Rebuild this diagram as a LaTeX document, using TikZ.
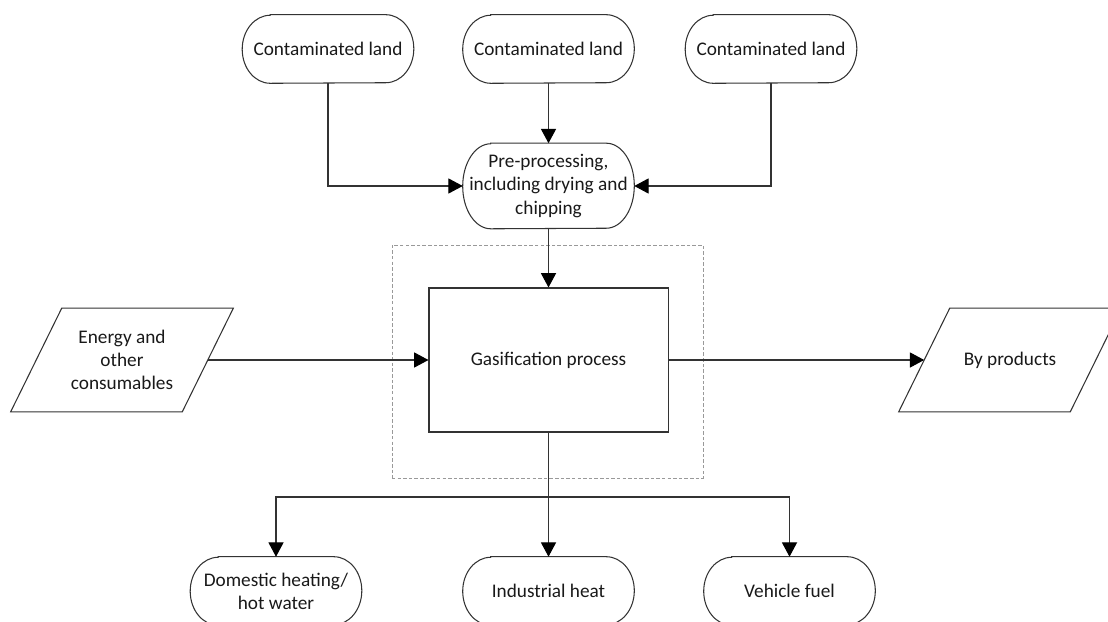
\documentclass[tikz,border=0pt]{standalone}
\usepackage{fontspec}
\setmainfont{Carlito}
\usetikzlibrary{arrows.meta}
\newcommand{\termoutline}[2]{%
  \draw[link] ([xshift=0.7cm]#1.north west) -- ([xshift=-0.7cm]#1.north east)
    arc[start angle=90, end angle=-90, x radius=0.7cm, y radius=#2]
    -- ([xshift=0.7cm]#1.south west)
    arc[start angle=270, end angle=90, x radius=0.7cm, y radius=#2] -- cycle;}
\newcommand{\dataoutline}[1]{%
  \draw[link] ([xshift=0.6375cm]#1.north west) -- ([xshift=0.6375cm]#1.north east)
    -- ([xshift=-0.6375cm]#1.south east) -- ([xshift=-0.6375cm]#1.south west) -- cycle;}

\begin{document}
\begin{tikzpicture}[x=0.025cm, y=-0.025cm]
  \tikzset{
    every node/.style={font=\fontsize{13.7}{16.4}\selectfont, text=black!90, align=center},
    link/.style={draw=black!80, line width=0.75pt},
    >={Triangle[length=0.36cm, width=0.38cm, color=black]},
    endbox/.style={minimum width=4.275cm, minimum height=1.7cm, inner sep=0pt},
    databox/.style={minimum width=4.275cm, minimum height=2.575cm, inner sep=0pt},
    processbox/.style={rectangle, link, minimum width=5.975cm, minimum height=3.6cm},
    framebox/.style={rectangle, draw=black!40, line width=0.5pt, dash pattern=on 2.5pt off 1.5pt,
      minimum width=7.775cm, minimum height=5.825cm}
  }
  \useasboundingbox (0,0) rectangle (1108,622);

  \node[framebox] (frame) at (547.5,361.5) {};

  \node[endbox] (land-1) at (328,49) {Contaminated land};
  \node[endbox] (land-2) at (548.5,49) {Contaminated land};
  \node[endbox] (land-3) at (771,49) {Contaminated land};
  \node[endbox, minimum height=2.125cm] (pre) at (548.5,186) {Pre-processing,\\including drying and\\chipping};
  \node[processbox] (gas) at (548.5,360) {Gasification process};
  \node[databox] (energy) at (122,360) {Energy and\\other\\consumables};
  \node[databox] (byprod) at (1010,360) {By products};
  \node[endbox] (use-1) at (276,591) {Domestic heating/\\hot water};
  \node[endbox] (use-2) at (548.5,591) {Industrial heat};
  \node[endbox] (use-3) at (789.5,591) {Vehicle fuel};
  \coordinate (split) at (548.5,497);

  \termoutline{land-1}{0.85cm}
  \termoutline{land-2}{0.85cm}
  \termoutline{land-3}{0.85cm}
  \termoutline{pre}{1.0625cm}
  \termoutline{use-1}{0.85cm}
  \termoutline{use-2}{0.85cm}
  \termoutline{use-3}{0.85cm}
  \dataoutline{energy}
  \dataoutline{byprod}

  \draw[link, ->] (land-1) |- (pre);
  \draw[link, ->] (land-2) -- (pre);
  \draw[link, ->] (land-3) |- (pre);
  \draw[link, ->] (pre) -- (gas);
  \draw[link, ->] (energy) -- (gas);
  \draw[link, ->] (gas) -- (byprod);
  \draw[link] (gas) -- (split);
  \draw[link, ->] (split) -| (use-1);
  \draw[link, ->] (split) -- (use-2);
  \draw[link, ->] (split) -| (use-3);
\end{tikzpicture}
\end{document}
